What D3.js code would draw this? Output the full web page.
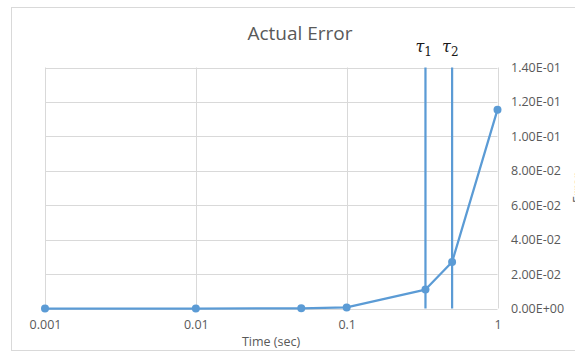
<!DOCTYPE html>
<html>
<head>
<meta charset="utf-8">
<script src="https://cdn.jsdelivr.net/npm/d3@7"></script>
<style>
  html, body { margin: 0; padding: 0; background: #fff; }
  svg { display: block; }
  text { font-family: "Open Sans", "Liberation Sans", sans-serif; }
</style>
</head>
<body>
<svg id="chart" width="575" height="352"></svg>
<script>
// ---- data ----
const times  = [0.001, 0.01, 0.05, 0.1, 0.333, 0.5, 1];
const errors = [0, 0, 0.0001, 0.0006, 0.011, 0.027, 0.1155];
const tauTimes  = [0.333, 0.5];
const tauLabels = ["1", "2"];
const xTicks = [0.001, 0.01, 0.1, 1];
const xTickLabels = ["0.001", "0.01", "0.1", "1"];
const yTicks = [0, 0.02, 0.04, 0.06, 0.08, 0.10, 0.12, 0.14];
const yTickLabels = ["0.00E+00", "2.00E-02", "4.00E-02", "6.00E-02", "8.00E-02", "1.00E-01", "1.20E-01", "1.40E-01"];

const svg = d3.select("#chart");
const blue = "#5b9bd5", grid = "#d9d9d9", textCol = "#595959";

// chart frame
svg.append("rect").attr("x", 11.5).attr("y", 7.5).attr("width", 600).attr("height", 343)
  .attr("fill", "#fff").attr("stroke", grid).attr("stroke-width", 1);

const x = d3.scaleLog().domain([0.001, 1]).range([45, 497.5]);
const y = d3.scaleLinear().domain([0, 0.14]).range([308.5, 67.5]);

// gridlines
const g = svg.append("g");
g.selectAll("line.h").data(yTicks).join("line")
  .attr("x1", x(0.001)).attr("x2", x(1))
  .attr("y1", d => Math.round(y(d)) + 0.5).attr("y2", d => Math.round(y(d)) + 0.5)
  .attr("stroke", grid).attr("stroke-width", 1);
g.selectAll("line.v").data(xTicks).join("line")
  .attr("x1", d => Math.round(x(d)) + 0.5).attr("x2", d => Math.round(x(d)) + 0.5)
  .attr("y1", y(0.14)).attr("y2", y(0))
  .attr("stroke", grid).attr("stroke-width", 1);

// right y axis labels
const yAxis = d3.axisRight(y).tickValues(yTicks).tickSize(0).tickPadding(0)
  .tickFormat((d, i) => yTickLabels[i]);
const ya = svg.append("g").attr("transform", "translate(511,0)").call(yAxis);
ya.select(".domain").remove();
ya.selectAll("text").attr("fill", textCol).style("font-size", "12.5px")
  .style("font-family", "'Open Sans', sans-serif");

// x axis labels
const xAxis = d3.axisBottom(x).tickValues(xTicks).tickSize(0).tickPadding(0)
  .tickFormat((d, i) => xTickLabels[i]);
const xa = svg.append("g").attr("transform", "translate(0,320)").call(xAxis);
xa.select(".domain").remove();
xa.selectAll("text").attr("fill", textCol).style("font-size", "12.5px")
  .style("font-family", "'Open Sans', sans-serif");

// tau lines
svg.selectAll("line.tau").data(tauTimes).join("line")
  .attr("x1", d => x(d)).attr("x2", d => x(d))
  .attr("y1", y(0.14)).attr("y2", y(0))
  .attr("stroke", blue).attr("stroke-width", 2.25);

// tau labels
const tl = svg.selectAll("text.tau").data(tauTimes).join("text")
  .attr("x", d => x(d) - 10).attr("y", 52)
  .attr("fill", "#1a1a1a")
  .style("font-family", "'DejaVu Serif', serif").style("font-size", "16px").style("font-style", "italic");
tl.append("tspan").text("τ");
tl.append("tspan").attr("dy", 4).style("font-style", "normal").style("font-size", "12px")
  .text((d, i) => tauLabels[i]);

// series line
const pts = times.map((t, i) => [t, errors[i]]);
svg.append("path").datum(pts)
  .attr("d", d3.line().x(d => x(d[0])).y(d => y(d[1])))
  .attr("fill", "none").attr("stroke", blue).attr("stroke-width", 2.25)
  .attr("stroke-linejoin", "round");
svg.selectAll("circle.pt").data(pts).join("circle")
  .attr("cx", d => x(d[0])).attr("cy", d => y(d[1])).attr("r", 4)
  .attr("fill", blue);

// title
svg.append("text").attr("x", 300).attr("y", 40).attr("text-anchor", "middle")
  .attr("fill", textCol).style("font-size", "19px").text("Actual Error");

// x axis title
svg.append("text").attr("x", 271).attr("y", 346).attr("text-anchor", "middle")
  .attr("fill", textCol).style("font-size", "12.5px").text("Time (sec)");

// y axis title (cut off at right edge)
svg.append("text").attr("transform", "translate(582,188) rotate(-90)")
  .attr("text-anchor", "middle").attr("fill", textCol).style("font-size", "12.5px").text("Error");
</script>
</body>
</html>
